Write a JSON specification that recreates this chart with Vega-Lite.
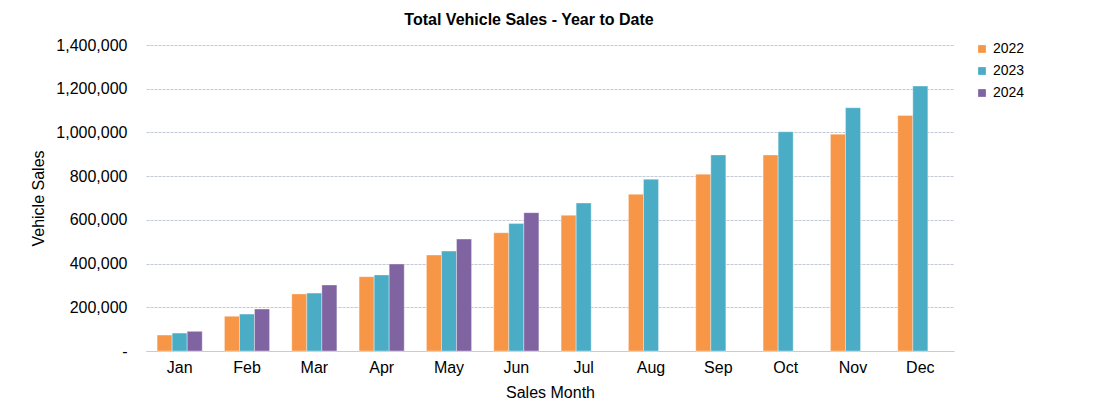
{
  "$schema": "https://vega.github.io/schema/vega-lite/v6.json",
  "width": 808,
  "height": 306,
  "autosize": "none",
  "padding": {"left": 146, "top": 45, "right": 148, "bottom": 66},
  "background": "white",
  "config": {
    "font": "Liberation Sans",
    "view": {"stroke": null},
    "axis": {"labelColor": "#000", "titleColor": "#000", "titleFontWeight": "normal"}
  },
  "title": {
    "text": "Total Vehicle Sales - Year to Date",
    "fontSize": 16,
    "fontWeight": "bold",
    "color": "#000",
    "anchor": "middle",
    "dx": -21,
    "offset": 9
  },
  "data": {
    "values": [
      {"month": "Jan", "year": "2022", "sales": 73000},
      {"month": "Jan", "year": "2023", "sales": 82000},
      {"month": "Jan", "year": "2024", "sales": 90000},
      {"month": "Feb", "year": "2022", "sales": 159000},
      {"month": "Feb", "year": "2023", "sales": 169000},
      {"month": "Feb", "year": "2024", "sales": 192000},
      {"month": "Mar", "year": "2022", "sales": 261000},
      {"month": "Mar", "year": "2023", "sales": 265000},
      {"month": "Mar", "year": "2024", "sales": 302000},
      {"month": "Apr", "year": "2022", "sales": 340000},
      {"month": "Apr", "year": "2023", "sales": 348000},
      {"month": "Apr", "year": "2024", "sales": 398000},
      {"month": "May", "year": "2022", "sales": 439000},
      {"month": "May", "year": "2023", "sales": 457000},
      {"month": "May", "year": "2024", "sales": 512000},
      {"month": "Jun", "year": "2022", "sales": 541000},
      {"month": "Jun", "year": "2023", "sales": 583000},
      {"month": "Jun", "year": "2024", "sales": 633000},
      {"month": "Jul", "year": "2022", "sales": 621000},
      {"month": "Jul", "year": "2023", "sales": 677000},
      {"month": "Aug", "year": "2022", "sales": 717000},
      {"month": "Aug", "year": "2023", "sales": 786000},
      {"month": "Sep", "year": "2022", "sales": 809000},
      {"month": "Sep", "year": "2023", "sales": 897000},
      {"month": "Oct", "year": "2022", "sales": 897000},
      {"month": "Oct", "year": "2023", "sales": 1003000},
      {"month": "Nov", "year": "2022", "sales": 992000},
      {"month": "Nov", "year": "2023", "sales": 1113000},
      {"month": "Dec", "year": "2022", "sales": 1078000},
      {"month": "Dec", "year": "2023", "sales": 1212000}
    ]
  },
  "mark": {"type": "bar", "stroke": "#ffffff", "strokeOpacity": 0.35, "strokeWidth": 1},
  "encoding": {
    "x": {
      "field": "month",
      "type": "nominal",
      "sort": ["Jan","Feb","Mar","Apr","May","Jun","Jul","Aug","Sep","Oct","Nov","Dec"],
      "scale": {"paddingInner": 0.33, "paddingOuter": 0.165},
      "axis": {
        "title": "Sales Month",
        "labelAngle": 0,
        "labelFontSize": 16,
        "titleFontSize": 16,
        "ticks": false,
        "domain": true,
        "domainColor": "#c5ccd8",
        "labelPadding": 8,
        "titlePadding": 9
      }
    },
    "xOffset": {"field": "year", "type": "nominal"},
    "y": {
      "field": "sales",
      "type": "quantitative",
      "scale": {"domain": [0, 1400000]},
      "axis": {
        "title": "Vehicle Sales",
        "values": [0, 200000, 400000, 600000, 800000, 1000000, 1200000, 1400000],
        "labelExpr": "datum.value == 0 ? '-' : format(datum.value, ',')",
        "labelFontSize": 16,
        "titleFontSize": 16,
        "ticks": false,
        "domain": false,
        "labelPadding": 19,
        "titlePadding": 9,
        "grid": true,
        "gridColor": "#c3cad6",
        "gridDash": [3, 1],
        "gridWidth": 1
      }
    },
    "color": {
      "field": "year",
      "type": "nominal",
      "scale": {"domain": ["2022", "2023", "2024"], "range": ["#F79646", "#4BACC6", "#8064A2"]},
      "legend": {
        "title": null,
        "orient": "none",
        "legendX": 829,
        "legendY": -3,
        "symbolType": "square",
        "symbolSize": 60,
        "symbolStrokeWidth": 0,
        "labelFontSize": 14,
        "labelColor": "#000",
        "rowPadding": 8,
        "labelOffset": 4,
        "padding": 0
      }
    }
  }
}
